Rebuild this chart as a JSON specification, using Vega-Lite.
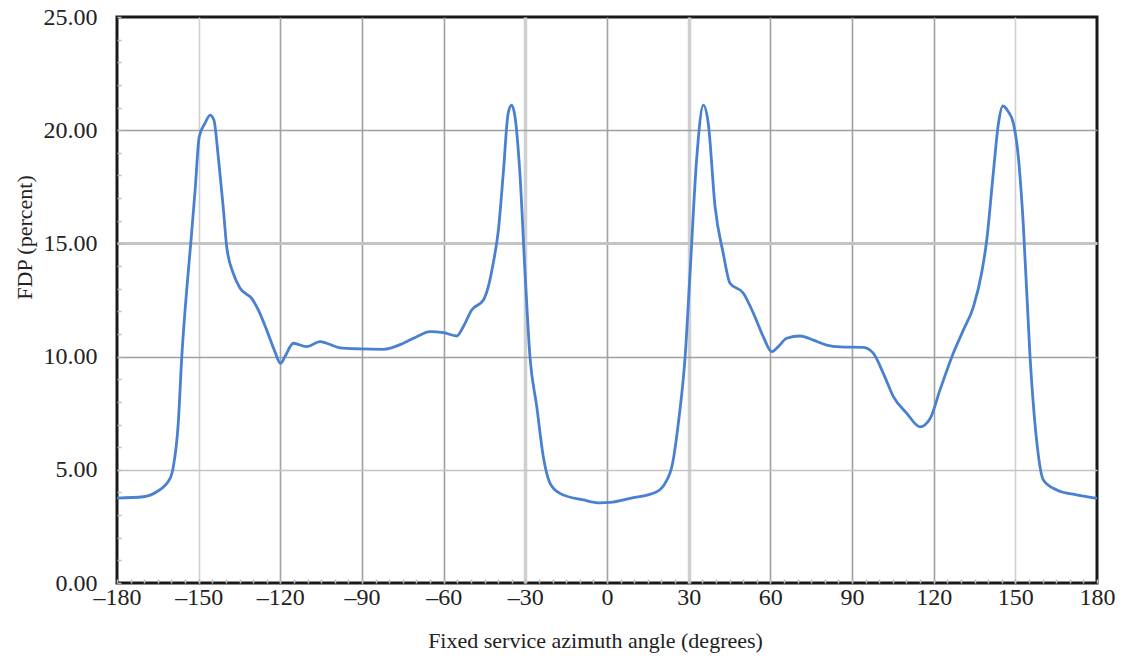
{
  "$schema": "https://vega.github.io/schema/vega-lite/v6.json",
  "width": 980,
  "height": 566,
  "autosize": {"type": "none"},
  "padding": {"left": 117, "top": 17, "right": 29, "bottom": 78},
  "background": "white",
  "config": {
    "view": {"stroke": "#1a1a1a", "strokeWidth": 3},
    "font": "Liberation Serif"
  },
  "data": {
    "values": [
      {"angle": -180, "fdp": 3.75},
      {"angle": -170.3, "fdp": 3.81},
      {"angle": -165.4, "fdp": 4.03},
      {"angle": -160.5, "fdp": 4.62},
      {"angle": -159.3, "fdp": 5.14},
      {"angle": -157.5, "fdp": 7.05},
      {"angle": -156.2, "fdp": 10.0},
      {"angle": -154.4, "fdp": 12.94},
      {"angle": -152.8, "fdp": 15.15},
      {"angle": -151.3, "fdp": 17.36},
      {"angle": -149.8, "fdp": 19.71},
      {"angle": -147.7, "fdp": 20.3},
      {"angle": -145.8, "fdp": 20.67},
      {"angle": -144.4, "fdp": 20.45},
      {"angle": -142.8, "fdp": 18.83},
      {"angle": -141.0, "fdp": 16.62},
      {"angle": -139.7, "fdp": 14.85},
      {"angle": -137.3, "fdp": 13.68},
      {"angle": -134.8, "fdp": 13.02},
      {"angle": -130.5, "fdp": 12.57},
      {"angle": -128.1, "fdp": 12.06},
      {"angle": -125.0, "fdp": 11.17},
      {"angle": -122.0, "fdp": 10.22},
      {"angle": -119.9, "fdp": 9.7},
      {"angle": -118.3, "fdp": 10.0},
      {"angle": -115.2, "fdp": 10.59},
      {"angle": -110.3, "fdp": 10.44},
      {"angle": -105.4, "fdp": 10.66},
      {"angle": -103.0, "fdp": 10.59},
      {"angle": -98.1, "fdp": 10.39},
      {"angle": -90.7, "fdp": 10.34},
      {"angle": -82.2, "fdp": 10.32},
      {"angle": -74.8, "fdp": 10.59},
      {"angle": -69.9, "fdp": 10.88},
      {"angle": -65.0, "fdp": 11.1},
      {"angle": -60.1, "fdp": 11.06},
      {"angle": -55.2, "fdp": 10.91},
      {"angle": -52.8, "fdp": 11.32},
      {"angle": -49.7, "fdp": 12.06},
      {"angle": -45.4, "fdp": 12.5},
      {"angle": -43.6, "fdp": 13.09},
      {"angle": -41.8, "fdp": 14.12},
      {"angle": -39.9, "fdp": 15.59},
      {"angle": -38.1, "fdp": 18.1},
      {"angle": -36.3, "fdp": 20.75},
      {"angle": -35.0, "fdp": 21.11},
      {"angle": -33.8, "fdp": 20.6},
      {"angle": -32.0, "fdp": 18.1},
      {"angle": -30.1, "fdp": 13.68},
      {"angle": -28.3, "fdp": 10.0},
      {"angle": -25.8, "fdp": 7.79},
      {"angle": -23.4, "fdp": 5.58},
      {"angle": -20.9, "fdp": 4.4},
      {"angle": -17.3, "fdp": 3.96},
      {"angle": -8.7, "fdp": 3.67},
      {"angle": -2.6, "fdp": 3.54},
      {"angle": 1.1, "fdp": 3.56},
      {"angle": 8.5, "fdp": 3.74},
      {"angle": 18.3, "fdp": 4.03},
      {"angle": 21.3, "fdp": 4.4},
      {"angle": 24.1, "fdp": 5.29},
      {"angle": 26.2, "fdp": 7.05},
      {"angle": 28.7, "fdp": 10.0},
      {"angle": 30.5, "fdp": 13.68},
      {"angle": 33.0, "fdp": 18.83},
      {"angle": 35.4, "fdp": 21.11},
      {"angle": 37.2, "fdp": 20.3},
      {"angle": 39.7, "fdp": 16.62},
      {"angle": 42.7, "fdp": 14.56},
      {"angle": 45.2, "fdp": 13.24},
      {"angle": 50.1, "fdp": 12.8},
      {"angle": 53.8, "fdp": 11.91},
      {"angle": 57.4, "fdp": 10.88},
      {"angle": 60.5, "fdp": 10.22},
      {"angle": 62.9, "fdp": 10.44},
      {"angle": 66.0, "fdp": 10.81},
      {"angle": 70.9, "fdp": 10.91},
      {"angle": 75.8, "fdp": 10.73},
      {"angle": 80.7, "fdp": 10.51},
      {"angle": 85.6, "fdp": 10.43},
      {"angle": 94.2, "fdp": 10.41},
      {"angle": 97.8, "fdp": 10.15},
      {"angle": 101.5, "fdp": 9.26},
      {"angle": 105.2, "fdp": 8.23},
      {"angle": 110.1, "fdp": 7.5},
      {"angle": 115.0, "fdp": 6.9},
      {"angle": 118.7, "fdp": 7.27},
      {"angle": 122.3, "fdp": 8.52},
      {"angle": 127.2, "fdp": 10.15},
      {"angle": 130.9, "fdp": 11.17},
      {"angle": 134.6, "fdp": 12.2},
      {"angle": 137.6, "fdp": 13.68},
      {"angle": 139.5, "fdp": 15.15},
      {"angle": 141.9, "fdp": 18.1},
      {"angle": 143.8, "fdp": 20.3},
      {"angle": 145.4, "fdp": 21.07},
      {"angle": 147.4, "fdp": 20.82},
      {"angle": 149.3, "fdp": 20.3},
      {"angle": 151.1, "fdp": 18.83},
      {"angle": 152.9, "fdp": 15.89},
      {"angle": 155.4, "fdp": 10.0},
      {"angle": 157.8, "fdp": 6.32},
      {"angle": 160.3, "fdp": 4.55},
      {"angle": 165.2, "fdp": 4.11},
      {"angle": 172.5, "fdp": 3.89},
      {"angle": 180, "fdp": 3.74}
    ]
  },
  "mark": {"type": "line", "color": "#4a80d0", "strokeWidth": 2.8, "interpolate": "monotone"},
  "encoding": {
    "x": {
      "field": "angle",
      "type": "quantitative",
      "scale": {"domain": [-180, 180], "nice": false, "zero": false},
      "axis": {
        "values": [-180,-175,-170,-165,-160,-155,-150,-145,-140,-135,-130,-125,-120,-115,-110,-105,-100,-95,-90,-85,-80,-75,-70,-65,-60,-55,-50,-45,-40,-35,-30,-25,-20,-15,-10,-5,0,5,10,15,20,25,30,35,40,45,50,55,60,65,70,75,80,85,90,95,100,105,110,115,120,125,130,135,140,145,150,155,160,165,170,175,180],
        "labelExpr": "datum.value % 30 != 0 ? '' : (datum.value < 0 ? '–' + abs(datum.value) : '' + datum.value)",
        "labelFont": "Liberation Serif",
        "labelFontSize": 24,
        "labelColor": "#222",
        "labelPadding": 6,
        "labelFlush": false,
        "labelOverlap": false,
        "domain": false,
        "tickSize": -4,
        "tickColor": "#bbbbbb",
        "tickWidth": 1.5,
        "grid": true,
        "gridColor": {"condition": {"test": "abs(datum.value) == 150 || abs(datum.value) == 30", "value": "#d0d0d0"}, "value": "#a0a0a0"},
        "gridWidth": {"condition": {"test": "abs(datum.value) == 30", "value": 3.5}, "value": 1.6},
        "gridOpacity": {"condition": {"test": "datum.value % 30 != 0 || abs(datum.value) == 180", "value": 0}, "value": 1},
        "title": "Fixed service azimuth angle (degrees)",
        "titleFont": "Liberation Serif",
        "titleFontSize": 22,
        "titleFontWeight": "normal",
        "titleColor": "#222",
        "titleX": 478,
        "titleY": 57,
        "titleBaseline": "middle",
        "titleAlign": "center"
      }
    },
    "y": {
      "field": "fdp",
      "type": "quantitative",
      "scale": {"domain": [0, 25], "nice": false},
      "axis": {
        "values": [0,1,2,3,4,5,6,7,8,9,10,11,12,13,14,15,16,17,18,19,20,21,22,23,24,25],
        "labelExpr": "datum.value % 5 != 0 ? '' : format(datum.value, '.2f')",
        "labelFont": "Liberation Serif",
        "labelFontSize": 24,
        "labelColor": "#222",
        "labelPadding": 24,
        "labelFlush": false,
        "labelOverlap": false,
        "domain": false,
        "tickSize": -4,
        "tickColor": "#bbbbbb",
        "tickWidth": 1.5,
        "grid": true,
        "gridColor": {"condition": {"test": "datum.value == 15 || datum.value == 5", "value": "#c4c4c4"}, "value": "#a0a0a0"},
        "gridWidth": {"condition": {"test": "datum.value == 15", "value": 3}, "value": 1.6},
        "gridOpacity": {"condition": {"test": "datum.value % 5 != 0 || datum.value == 0 || datum.value == 25", "value": 0}, "value": 1},
        "title": "FDP (percent)",
        "titleFont": "Liberation Serif",
        "titleFontSize": 22,
        "titleFontWeight": "normal",
        "titleColor": "#222",
        "titleAngle": -90,
        "titleX": -93,
        "titleY": 220,
        "titleBaseline": "middle",
        "titleAlign": "center"
      }
    }
  }
}
